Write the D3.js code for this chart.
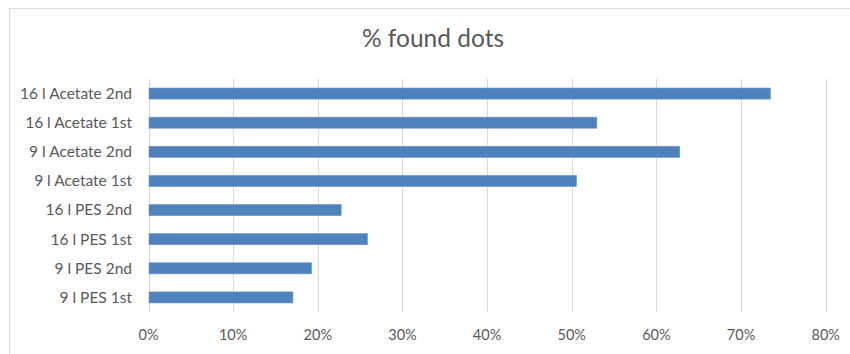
<!DOCTYPE html>
<html>
<head>
<meta charset="utf-8">
<script src="https://cdn.jsdelivr.net/npm/d3@7"></script>
<style>
  body { margin: 0; background: #fff; }
  text { font-family: Lato, "Open Sans", sans-serif; fill: #595959; }
</style>
</head>
<body>
<svg id="chart"></svg>
<script>
var w = 850;
var h = 354;

// categories top to bottom, values in percent
var categories = ["16 l Acetate 2nd", "16 l Acetate 1st", "9 l Acetate 2nd", "9 l Acetate 1st",
                  "16 l PES 2nd", "16 l PES 1st", "9 l PES 2nd", "9 l PES 1st"];
var values = [73.4, 52.9, 62.7, 50.5, 22.7, 25.8, 19.2, 17.0];
var ticks = [0, 10, 20, 30, 40, 50, 60, 70, 80];
var title = "% found dots";

var margin = { top: 79, right: 24, bottom: 42, left: 148.5 };

var svg = d3.select("#chart")
    .attr("width", w)
    .attr("height", h);

// chart frame
svg.append("rect")
    .attr("x", 9.5)
    .attr("y", 8.5)
    .attr("width", w + 10)
    .attr("height", h + 10)
    .style("fill", "#fff")
    .style("stroke", "#d9d9d9")
    .style("stroke-width", 1);

var x = d3.scaleLinear()
    .domain([0, 80])
    .range([margin.left, w - margin.right - 0.3]);

var y = d3.scaleBand()
    .domain(categories)
    .range([margin.top, h - margin.bottom])
    .paddingInner(0.62)
    .paddingOuter(0.31);

//gridlines
svg.selectAll("line.grid")
    .data(ticks)
    .enter()
    .append("line")
    .attr("class", "grid")
    .attr("x1", function (d) { return Math.round(x(d)) + 0.5; })
    .attr("x2", function (d) { return Math.round(x(d)) + 0.5; })
    .attr("y1", margin.top)
    .attr("y2", h - margin.bottom)
    .style("stroke", "#d9d9d9")
    .style("stroke-width", 1);

//bars
svg.selectAll("rect.bar")
    .data(values)
    .enter()
    .append("rect")
    .attr("class", "bar")
    .attr("x", x(0) + 0.5)
    .attr("y", function (d, i) { return y(categories[i]); })
    .attr("width", function (d) { return x(d) - x(0); })
    .attr("height", y.bandwidth())
    .style("fill", "#4f81bd")
    .style("stroke", "#6d96c9")
    .style("stroke-width", 0.6);

//category labels
svg.selectAll("text.cat")
    .data(categories)
    .enter()
    .append("text")
    .attr("class", "cat")
    .attr("x", 132)
    .attr("y", function (d) { return y(d) + y.bandwidth() / 2; })
    .attr("dy", "0.35em")
    .attr("text-anchor", "end")
    .style("font-size", "15.5px")
    .text(function (d) { return d; });

//tick labels
svg.selectAll("text.tick")
    .data(ticks)
    .enter()
    .append("text")
    .attr("class", "tick")
    .attr("x", function (d) { return x(d); })
    .attr("y", 335)
    .attr("dy", "0.35em")
    .attr("text-anchor", "middle")
    .style("font-size", "14.5px")
    .text(function (d) { return d + "%"; });

svg.append("text")
    .attr("x", 433)
    .attr("y", 47)
    .attr("text-anchor", "middle")
    .style("font-size", "24.5px")
    .text(title);
</script>
</body>
</html>
